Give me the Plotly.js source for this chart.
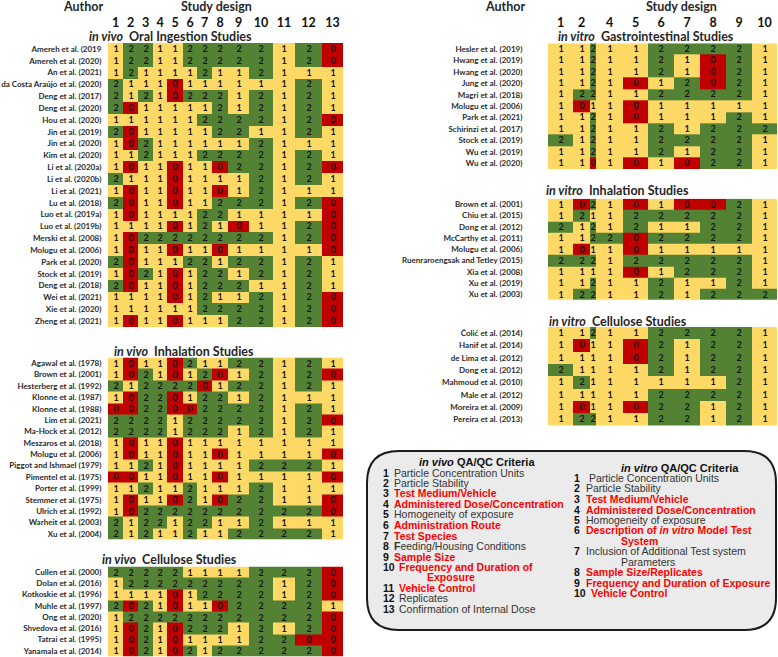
<!DOCTYPE html>
<html>
<head>
<meta charset="utf-8">
<script src="https://cdn.plot.ly/plotly-3.0.1.min.js"></script>
<style>html,body{margin:0;padding:0;background:#fff;}#chart{width:778px;height:657px;}</style>
</head>
<body>
<div id="chart"></div>
<script>
// ---------------- DATA ----------------
const inVivoCriteria = ['1','2','3','4','5','6','7','8','9','10','11','12','13'];
const inVitroCriteria = ['1','2','3','4','5','6','7','8','9','10'];
const inVitroShownLabels = ['1','2','','4','5','6','7','8','9','10'];

const oralAuthors = ['Amereh et al. (2019','Amereh et al. (2020)','An et al. (2021)','da Costa Araújo et al. (2020)',
  'Deng et al. (2017)','Deng et al. (2020)','Hou et al. (2020)','Jin et al. (2019)','Jin et al. (2020)','Kim et al. (2020)',
  'Li et al. (2020a)','Li et al. (2020b)','Li et al. (2021)','Lu et al. (2018)','Luo et al. (2019a)','Luo et al. (2019b)',
  'Merski et al. (2008)','Molugu et al. (2006)','Park et al. (2020)','Stock et al. (2019)','Deng et al. (2018)',
  'Wei et al. (2021)','Xie et al. (2020)','Zheng et al. (2021)'];
const oralScores = [
  [1,2,2,1,1,2,2,2,2,2,1,2,0],
  [1,2,2,1,1,2,2,2,2,2,1,2,0],
  [1,2,1,1,1,1,2,1,1,2,1,1,1],
  [2,1,1,1,0,1,1,1,1,1,1,2,1],
  [2,1,2,1,0,2,2,2,1,2,1,2,1],
  [2,0,1,1,1,1,1,2,1,2,1,2,1],
  [1,1,1,1,1,1,2,2,2,2,1,2,0],
  [2,0,1,1,1,1,1,2,2,1,1,2,1],
  [1,0,2,1,1,1,1,1,1,2,1,1,1],
  [1,1,2,1,1,1,2,2,2,2,1,2,1],
  [1,0,1,1,0,1,1,0,2,2,1,2,0],
  [2,1,1,1,0,1,1,1,1,2,1,2,1],
  [1,0,1,1,0,1,1,0,1,2,1,1,1],
  [2,0,1,1,0,1,1,2,2,2,1,2,0],
  [1,0,1,1,1,1,2,2,1,1,1,1,0],
  [1,1,1,1,0,1,2,1,0,1,1,2,0],
  [1,0,2,2,2,2,2,2,2,2,1,2,0],
  [1,0,1,1,0,1,1,0,1,1,1,1,0],
  [2,0,1,1,1,2,2,1,2,2,1,2,1],
  [1,0,2,1,0,1,2,2,1,2,1,2,1],
  [2,0,1,1,0,1,2,2,2,1,1,2,1],
  [1,1,1,1,0,1,2,1,1,2,1,2,0],
  [1,1,1,1,1,1,2,2,2,2,1,2,0],
  [1,0,1,1,0,1,1,1,2,2,1,2,0]
];

const inhalAuthors = ['Agawal et al. (1978)','Brown et al. (2001)','Hesterberg et al. (1992)','Klonne et al. (1987)',
  'Klonne et al. (1988)','Lim et al. (2021)','Ma-Hock et al. (2012)','Meszaros et al. (2018)','Molugu et al. (2006)',
  'Piggot and Ishmael (1979)','Pimentel et al. (1975)','Porter et al. (1999)','Stemmer et al. (1975)',
  'Ulrich et al. (1992)','Warheit et al. (2003)','Xu et al. (2004)'];
const inhalScores = [
  [1,0,1,1,0,2,1,1,2,2,1,2,1],
  [1,0,2,1,0,1,2,0,1,2,1,2,0],
  [2,1,2,2,2,2,0,1,2,2,1,2,1],
  [1,0,2,2,0,1,2,2,1,2,1,1,1],
  [0,0,2,2,0,0,2,2,2,2,1,2,1],
  [2,2,2,2,1,2,2,2,2,2,1,2,0],
  [2,2,2,2,1,2,2,2,1,2,1,2,1],
  [1,0,1,1,0,1,1,1,1,1,1,1,1],
  [1,0,1,1,0,1,1,0,1,1,1,1,0],
  [1,1,2,1,0,1,1,1,1,2,2,2,1],
  [0,0,1,1,0,1,1,0,1,1,1,1,0],
  [1,1,2,1,1,2,1,1,1,2,1,1,1],
  [1,0,1,1,0,2,1,0,2,2,1,1,0],
  [1,0,2,2,2,2,2,2,2,2,2,2,0],
  [2,1,2,2,1,2,2,1,1,2,1,1,1],
  [2,1,2,1,1,2,1,1,2,2,2,2,1]
];

const celluloseVivoAuthors = ['Cullen et al. (2000)','Dolan et al. (2016)','Kotkoskie et al. (1996)','Muhle et al. (1997)',
  'Ong et al. (2020)','Shvedova et al. (2016)','Tatrai et al. (1995)','Yanamala et al. (2014)'];
const celluloseVivoScores = [
  [2,2,2,2,2,1,1,1,1,2,2,2,0],
  [1,2,2,2,2,2,2,2,2,2,1,2,0],
  [1,1,1,1,0,1,2,2,2,2,1,2,0],
  [2,0,2,1,0,1,1,0,2,2,2,2,1],
  [1,2,2,2,2,2,2,2,2,2,2,2,0],
  [1,0,2,1,0,2,2,2,1,2,1,2,0],
  [1,0,2,1,0,1,1,1,1,2,2,0,0],
  [1,0,2,1,0,2,1,2,2,2,2,2,0]
];

const giAuthors = ['Hesler et al. (2019)','Hwang et al. (2019)','Hwang et al. (2020)','Jung et al. (2020)',
  'Magri et al. (2018)','Molugu et al. (2006)','Park et al. (2021)','Schirinzi et al. (2017)','Stock et al. (2019)',
  'Wu et al. (2019)','Wu et al. (2020)'];
const giScores = [
  [1,1,2,1,1,2,2,2,2,1],
  [1,1,2,1,1,2,1,0,2,1],
  [1,1,2,1,1,2,1,0,2,1],
  [1,1,2,1,0,1,2,0,2,1],
  [1,2,2,1,1,2,2,2,2,1],
  [1,0,1,1,0,1,1,1,1,1],
  [1,1,2,1,0,1,1,1,2,1],
  [1,1,2,1,1,2,1,2,2,2],
  [2,1,2,1,1,2,2,2,2,1],
  [1,1,2,1,1,2,1,2,2,1],
  [1,1,0,1,0,1,0,2,2,1]
];

const vitroInhalAuthors = ['Brown et al. (2001)','Chiu et al. (2015)','Dong et al. (2012)','McCarthy et al. (2011)',
  'Molugu et al. (2006)','Ruenraroengsak and Tetley (2015)','Xia et al. (2008)','Xu et al. (2019)','Xu et al. (2003)'];
const vitroInhalScores = [
  [1,0,2,1,0,1,0,0,2,1],
  [1,2,1,1,2,2,2,2,2,1],
  [2,1,2,1,2,1,1,2,2,1],
  [1,1,2,2,0,2,2,2,2,1],
  [1,0,1,1,0,1,1,1,1,1],
  [2,2,2,1,2,2,2,2,2,1],
  [1,1,1,1,0,1,2,2,2,1],
  [1,1,2,1,1,2,1,1,2,1],
  [1,2,2,1,1,2,1,2,2,2]
];

const celluloseVitroAuthors = ['Čolić et al. (2014)','Hanif et al. (2014)','de Lima et al. (2012)','Dong et al. (2012)',
  'Mahmoud et al. (2010)','Male et al. (2012)','Moreira et al. (2009)','Pereira et al. (2013)'];
const celluloseVitroScores = [
  [1,1,2,1,1,2,2,2,2,1],
  [1,0,1,1,0,2,1,2,2,1],
  [1,1,1,1,0,2,1,2,2,1],
  [2,1,1,1,1,2,1,2,2,1],
  [1,2,1,1,1,1,1,1,2,1],
  [1,1,1,1,1,2,2,2,2,1],
  [1,0,1,1,0,2,2,1,2,1],
  [1,2,2,1,1,2,2,1,2,1]
];

const inVivoLegend = [
  ['1','Particle Concentration Units',false],
  ['2','Particle Stability',false],
  ['3','Test Medium/Vehicle',true],
  ['4','Administered Dose/Concentration',true],
  ['5','Homogeneity of exposure',false],
  ['6','Administration Route',true],
  ['7','Test Species',true],
  ['8','<b>F</b>eeding/Housing Conditions',false],
  ['9','Sample Size',true],
  ['10','Frequency and Duration of',true],
  ['','Exposure',true],
  ['11','Vehicle Control',true],
  ['12','Replicates',false],
  ['13','Confirmation of Internal Dose',false]
];
const inVitroLegend = [
  ['1',' Particle Concentration Units',false],
  ['2','Particle Stability',false],
  ['3','Test Medium/Vehicle',true],
  ['4','Administered Dose/Concentration',true],
  ['5','Homogeneity of exposure',false],
  ['6','Description of <i>in vitro</i> Model Test',true],
  ['','System',true],
  ['7','Inclusion of Additional Test system',false],
  ['','Parameters',false],
  ['8','Sample Size/Replicates',true],
  ['9','Frequency and Duration of Exposure',true],
  ['10','Vehicle Control',true]
];

// ---------------- STYLE / LAYOUT ----------------
const W = 778, H = 657;
const RED = '#C00000', YELLOW = '#FFD966', GREEN = '#548235';
const CELL_FONT = 'Lato, "Open Sans", sans-serif';
const BOX_FONT = '"Liberation Sans", Arial, sans-serif';
const vivoColWidths = [15,15,15,14,16,14,15,16,21,24,22,27,21];
const vitroColWidths = [25,17,6,27,25,26,26,26,26,25];

const px = v => v / W;
const py = v => 1 - v / H;

const colorscale = [[0,RED],[0.3333,RED],[0.3333,YELLOW],[0.6667,YELLOW],[0.6667,GREEN],[1,GREEN]];

const traces = [];
const layout = {
  width: W, height: H,
  margin: {l:0, r:0, t:0, b:0},
  paper_bgcolor: '#fff', plot_bgcolor: '#fff',
  showlegend: false,
  annotations: [], shapes: []
};

function edgesOf(widths) {
  const e = [0];
  widths.forEach(w => e.push(e[e.length-1] + w));
  return e;
}

function addPanel(idx, authors, scores, widths, labels, xDom, yTopPx, yBotPx, showX, yTickLen) {
  const e = edgesOf(widths);
  const centers = widths.map((w,i) => (e[i] + e[i+1]) / 2);
  const xs = idx === 1 ? '' : String(idx);
  traces.push({
    type: 'heatmap', x: e, y: authors, z: scores,
    xaxis: 'x' + xs, yaxis: 'y' + xs,
    zmin: 0, zmax: 2, colorscale: colorscale, showscale: false,
    texttemplate: '%{z}', textfont: {family: CELL_FONT, size: 9, color: '#151515', weight: 'bold'},
    hoverinfo: 'skip', xgap: 0, ygap: 0
  });
  const tv = [], tt = [];
  labels.forEach((l,i) => { if (l !== '') { tv.push(centers[i]); tt.push(l); } });
  layout['xaxis' + xs] = {
    domain: xDom, range: [0, e[e.length-1]], anchor: 'y' + xs,
    side: 'top', showgrid: false, zeroline: false, showline: false, fixedrange: true,
    tickmode: 'array', tickvals: tv, ticktext: tt, showticklabels: showX,
    ticks: showX ? 'outside' : '', ticklen: 10, tickcolor: 'rgba(0,0,0,0)',
    tickfont: {family: CELL_FONT, size: 12.5, color: '#111', weight: 'bold'}
  };
  layout['yaxis' + xs] = {
    domain: [py(yBotPx), py(yTopPx)], anchor: 'x' + xs, type: 'category',
    autorange: 'reversed', showgrid: false, zeroline: false, showline: false, fixedrange: true,
    tickmode: 'array', tickvals: authors, ticktext: authors,
    ticks: 'outside', ticklen: yTickLen, tickcolor: 'rgba(0,0,0,0)',
    tickfont: {family: CELL_FONT, size: 8, color: '#2b2b2b', weight: 'bold'}
  };
}

const leftX = [px(108), px(343)];
const rightX = [px(548), px(777)];
addPanel(1, oralAuthors, oralScores, vivoColWidths, inVivoCriteria, leftX, 43, 327, true, 4);
addPanel(2, inhalAuthors, inhalScores, vivoColWidths, inVivoCriteria, leftX, 357.5, 539.5, false, 4);
addPanel(3, celluloseVivoAuthors, celluloseVivoScores, vivoColWidths, inVivoCriteria, leftX, 566.5, 656.5, false, 4);
addPanel(4, giAuthors, giScores, vitroColWidths, inVitroShownLabels, rightX, 43.3, 169, true, 23);
addPanel(5, vitroInhalAuthors, vitroInhalScores, vitroColWidths, inVitroShownLabels, rightX, 198.7, 300, false, 23);
addPanel(6, celluloseVitroAuthors, celluloseVitroScores, vitroColWidths, inVitroShownLabels, rightX, 327, 425.5, false, 23);

function ann(text, x, y, opts) {
  layout.annotations.push(Object.assign({
    text: text, xref: 'paper', yref: 'paper', x: px(x), y: py(y),
    xanchor: 'center', yanchor: 'middle', showarrow: false,
    font: {family: CELL_FONT, size: 12.5, color: '#262626'}
  }, opts || {}));
}

// Headers
ann('<b>Author</b>', 83, 6.5);
ann('<b>Study design</b>', 216, 6.5);
ann('<b>Author</b>', 505, 6.5);
ann('<b>Study design</b>', 681, 6.5);

// Section titles
const secFont = {family: CELL_FONT, size: 12.5, color: '#262626'};
ann('<b><i>in vivo</i>  Oral Ingestion Studies</b>', 87, 36, {xanchor: 'left', font: secFont});
ann('<b><i>in vivo</i>  Inhalation Studies</b>', 112, 351, {xanchor: 'left', font: secFont});
ann('<b><i>in vivo</i>  Cellulose Studies</b>', 100, 559, {xanchor: 'left', font: secFont});
ann('<b><i>in vitro</i>  Gastrointestinal Studies</b>', 556, 36, {xanchor: 'left', font: secFont});
ann('<b><i>in vitro</i>  Inhalation Studies</b>', 544, 191, {xanchor: 'left', font: secFont});
ann('<b><i>in vitro</i>  Cellulose Studies</b>', 547, 321, {xanchor: 'left', font: secFont});

// Legend box (rounded rectangle)
(function() {
  const x0 = 367, x1 = 776, y0 = 451, y1 = 630, r = 32;
  const P = (x, y) => px(x).toFixed(5) + ',' + py(y).toFixed(5);
  const path = 'M' + P(x0 + r, y0) + ' L' + P(x1 - r, y0) + ' Q' + P(x1, y0) + ' ' + P(x1, y0 + r) +
    ' L' + P(x1, y1 - r) + ' Q' + P(x1, y1) + ' ' + P(x1 - r, y1) +
    ' L' + P(x0 + r, y1) + ' Q' + P(x0, y1) + ' ' + P(x0, y1 - r) +
    ' L' + P(x0, y0 + r) + ' Q' + P(x0, y0) + ' ' + P(x0 + r, y0) + ' Z';
  layout.shapes.push({type: 'path', xref: 'paper', yref: 'paper', path: path,
    fillcolor: '#EBEBEB', line: {color: '#1a1a1a', width: 2}, layer: 'below'});
})();

// Legend texts
const boxTitleFont = {family: BOX_FONT, size: 11, color: '#111'};
ann('<b><i>in vivo</i> QA/QC Criteria</b>', 477, 462, {font: boxTitleFont});
ann('<b><i>in vitro</i> QA/QC Criteria</b>', 680, 467.5, {font: boxTitleFont});

const vivoY = [472.7,483.3,493.3,504,514.3,525,535.7,546,556.7,567,577.3,587.7,598.3,608.7];
inVivoLegend.forEach((row, i) => {
  const [num, txt, red] = row;
  const f = {family: BOX_FONT, size: 10.5, color: red ? '#FF0000' : '#333'};
  if (num) ann('<b>' + num + '</b>', 381, vivoY[i], {xanchor: 'left', font: {family: BOX_FONT, size: 10.5, color: '#111'}});
  let tx = num.length > 1 ? 397 : 392;
  let anchor = 'left';
  if (!num) { tx = 451; anchor = 'center'; }
  ann(red ? '<b>' + txt + '</b>' : txt, tx, vivoY[i], {xanchor: anchor, font: f});
});

const vitroY = [477.7,488.3,499,509.7,520,530.3,541,551.3,562,572.3,583,593.3];
inVitroLegend.forEach((row, i) => {
  const [num, txt, red] = row;
  const f = {family: BOX_FONT, size: 10.5, color: red ? '#FF0000' : '#333'};
  if (num) ann('<b>' + num + '</b>', 572, vitroY[i], {xanchor: 'left', font: {family: BOX_FONT, size: 10.5, color: '#111'}});
  let tx = num.length > 1 ? 589 : 584;
  if (!num) tx = 619;
  ann(red ? '<b>' + txt + '</b>' : txt, tx, vitroY[i], {xanchor: 'left', font: f});
});

Plotly.newPlot('chart', traces, layout, {staticPlot: true, displayModeBar: false});
</script>
</body>
</html>
